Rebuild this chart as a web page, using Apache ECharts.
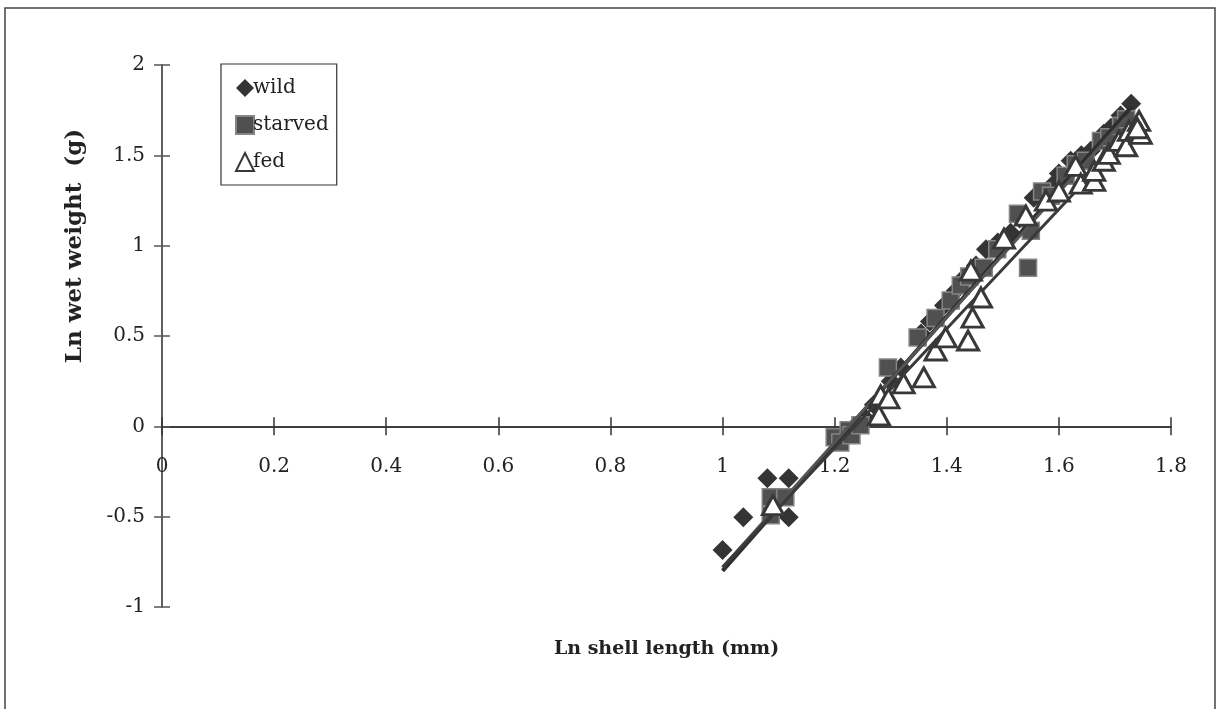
<!DOCTYPE html>
<html>
<head>
<meta charset="utf-8">
<script src="https://cdn.jsdelivr.net/npm/echarts@6/dist/echarts.min.js"></script>
<style>
  html, body { margin: 0; padding: 0; background: #fff; }
  #chart { width: 1219px; height: 709px; }
</style>
</head>
<body>
<div id="chart"></div>
<script>
// Ln shell length (mm) vs Ln wet weight (g) for three groups
const wildPoints = [
  [1.000, -0.685], [1.037, -0.503], [1.080, -0.287], [1.118, -0.287], [1.118, -0.503],
  [1.211, -0.077], [1.232, -0.011], [1.255, 0.044], [1.270, 0.120], [1.300, 0.250],
  [1.318, 0.326], [1.354, 0.514], [1.370, 0.580], [1.395, 0.669], [1.416, 0.751],
  [1.430, 0.820], [1.452, 0.890], [1.470, 0.980], [1.491, 1.017], [1.514, 1.072],
  [1.530, 1.150], [1.555, 1.265], [1.591, 1.343], [1.600, 1.400], [1.621, 1.470],
  [1.640, 1.500], [1.657, 1.525], [1.680, 1.620], [1.693, 1.652], [1.710, 1.720],
  [1.729, 1.785]
];
const starvedPoints = [
  [1.086, -0.392], [1.112, -0.392], [1.086, -0.492], [1.200, -0.061], [1.210, -0.090],
  [1.225, -0.022], [1.230, -0.050], [1.246, 0.006], [1.295, 0.326], [1.348, 0.492],
  [1.380, 0.600], [1.407, 0.696], [1.425, 0.779], [1.440, 0.830], [1.466, 0.878],
  [1.490, 0.980], [1.545, 0.878], [1.527, 1.177], [1.550, 1.083], [1.570, 1.300],
  [1.586, 1.276], [1.612, 1.387], [1.630, 1.450], [1.648, 1.470], [1.675, 1.580],
  [1.690, 1.600], [1.711, 1.663], [1.720, 1.700]
];
const fedPoints = [
  [1.090, -0.436], [1.279, 0.061], [1.282, 0.171], [1.296, 0.155], [1.323, 0.238],
  [1.359, 0.271], [1.380, 0.420], [1.398, 0.492], [1.438, 0.475], [1.446, 0.602],
  [1.461, 0.713], [1.443, 0.862], [1.502, 1.039], [1.541, 1.166], [1.577, 1.249],
  [1.600, 1.300], [1.630, 1.442], [1.639, 1.343], [1.663, 1.359], [1.663, 1.414],
  [1.680, 1.470], [1.689, 1.508], [1.707, 1.580], [1.720, 1.550], [1.725, 1.635],
  [1.743, 1.691], [1.746, 1.619], [1.740, 1.650]
];
// Fitted regression lines (end points)
const wildFit = [[1.0, -0.80], [1.73, 1.77]];
const starvedFit = [[1.0, -0.78], [1.72, 1.71]];
const fedFit = [[1.0, -0.78], [1.745, 1.68]];

const xTicks = { min: 0, max: 1.8, interval: 0.2 };
const yTicks = { min: -1, max: 2, interval: 0.5 };

const serif = '"DejaVu Serif", "Liberation Serif", serif';
const ink = '#333';

const W = 1219, H = 709;
const gridBox = { left: 162, right: 48, top: 65, bottom: 102 };
// the x axis sits on y = 0: shift it up from the grid bottom by that distance
const plotH = H - gridBox.top - gridBox.bottom;
const xAxisShift = -plotH * (0 - yTicks.min) / (yTicks.max - yTicks.min);

const chart = echarts.init(document.getElementById('chart'), null, { renderer: 'canvas' });

const baseX = {
  type: 'value', min: xTicks.min, max: xTicks.max, interval: xTicks.interval,
  position: 'bottom', offset: xAxisShift,
  splitLine: { show: false },
  axisLine: { onZero: false, lineStyle: { color: ink, width: 1.5 } }
};
const baseY = {
  type: 'value', min: yTicks.min, max: yTicks.max, interval: yTicks.interval,
  position: 'left',
  splitLine: { show: false },
  axisLine: { onZero: false, lineStyle: { color: '#555', width: 1.5 } }
};

chart.setOption({
  animation: false,
  backgroundColor: '#fff',
  grid: Object.assign({ containLabel: false, outerBoundsMode: 'none' }, gridBox),
  graphic: [
    {
      type: 'rect', silent: true,
      shape: { x: 5, y: 8, width: 1210, height: 730 },
      style: { fill: 'none', stroke: '#444', lineWidth: 1.5 }
    },
    {
      type: 'text', silent: true, x: 75, y: 246, rotation: Math.PI / 2,
      style: {
        text: 'Ln wet weight  (g)', fill: '#222',
        font: 'bold 23px ' + serif, align: 'center', verticalAlign: 'middle'
      }
    }
  ],
  xAxis: [
    Object.assign({}, baseX, {
      name: 'Ln shell length (mm)', nameLocation: 'middle', nameGap: 213,
      nameTextStyle: { fontFamily: serif, fontWeight: 'bold', fontSize: 19, color: '#222' },
      axisTick: { show: true, inside: false, length: 9, lineStyle: { color: ink, width: 1.5 } },
      axisLabel: { fontFamily: serif, fontSize: 20, color: '#222', margin: 30 }
    }),
    Object.assign({}, baseX, {
      axisTick: { show: true, inside: true, length: 9, lineStyle: { color: ink, width: 1.5 } },
      axisLabel: { show: false }
    })
  ],
  yAxis: [
    Object.assign({}, baseY, {
      axisTick: { show: true, inside: false, length: 8, lineStyle: { color: '#555', width: 1.5 } },
      axisLabel: { fontFamily: serif, fontSize: 20, color: '#222', margin: 17 }
    }),
    Object.assign({}, baseY, {
      axisTick: { show: true, inside: true, length: 8, lineStyle: { color: '#555', width: 1.5 } },
      axisLabel: { show: false }
    })
  ],
  legend: {
    data: ['wild', 'starved', 'fed'],
    orient: 'vertical', left: 221, top: 64,
    backgroundColor: '#fff', borderColor: ink, borderWidth: 1.2,
    padding: [14, 8, 13, 14], itemGap: 17, itemWidth: 18, itemHeight: 18,
    textStyle: { fontFamily: serif, fontSize: 20, color: '#222', padding: [0, 0, 0, -6] }
  },
  series: [
    {
      name: 'wild', type: 'scatter', data: wildPoints, symbol: 'diamond', symbolSize: 20,
      itemStyle: { color: '#343434', opacity: 1 }, z: 2
    },
    {
      name: 'starved', type: 'scatter', data: starvedPoints, symbol: 'rect', symbolSize: 17,
      itemStyle: { color: '#505050', borderColor: '#858585', borderWidth: 1.5, opacity: 1 }, z: 3
    },
    {
      name: 'wildFit', type: 'line', data: wildFit, symbol: 'none', z: 4,
      lineStyle: { color: '#2e2e2e', width: 4 }
    },
    {
      name: 'starvedFit', type: 'line', data: starvedFit, symbol: 'none', z: 4,
      lineStyle: { color: '#555', width: 3 }
    },
    {
      name: 'fedFit', type: 'line', data: fedFit, symbol: 'none', z: 4,
      lineStyle: { color: '#3a3a3a', width: 3 }
    },
    {
      name: 'fed', type: 'scatter', data: fedPoints, symbol: 'triangle', symbolSize: [21, 19],
      itemStyle: { color: '#fff', borderColor: '#383838', borderWidth: 3, opacity: 1 }, z: 5
    }
  ]
});
</script>
</body>
</html>
